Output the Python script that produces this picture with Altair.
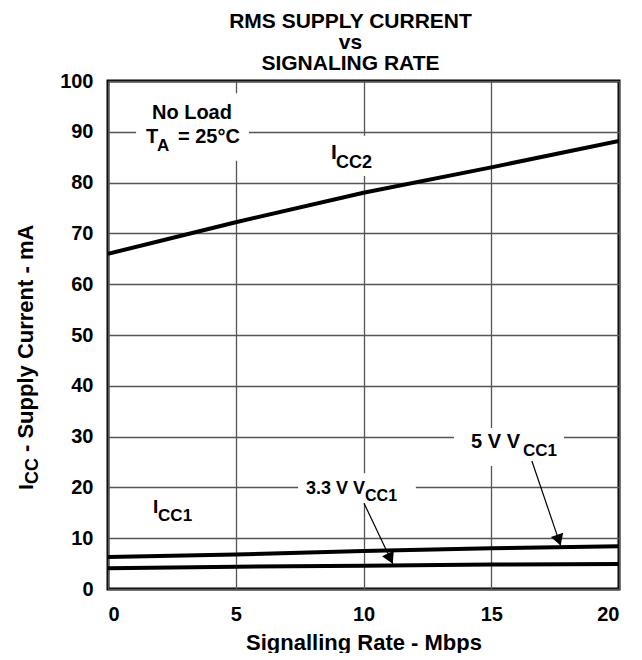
import math
import altair as alt
import pandas as pd

# ---- data ----
rate = [0, 5, 10, 15, 20]
icc2 = [66.0, 72.2, 78.0, 83.0, 88.2]
icc1_5v = [6.3, 6.8, 7.5, 8.0, 8.4]
icc1_33v = [4.1, 4.4, 4.6, 4.8, 4.9]

x_ticks = [0, 5, 10, 15, 20]
y_ticks = [0, 10, 20, 30, 40, 50, 60, 70, 80, 90, 100]

title_lines = ["RMS SUPPLY CURRENT", "vs", "SIGNALING RATE"]
x_title = "Signalling Rate - Mbps"

# annotation text pieces (left aligned, data coords of baseline start)
ann_text = ["No Load", "T", "A", "= 25°C", "I", "CC2", "5 V V", "CC1", "3.3 V V", "CC1", "I", "CC1"]
ann_x = [1.72, 1.49, 1.92, 2.74, 8.73, 8.92, 14.21, 16.24, 7.75, 10.06, 1.76, 1.96]
ann_y = [92.5, 87.8, 86.2, 87.8, 84.6, 82.9, 27.8, 26.2, 18.7, 17.3, 15.0, 13.4]
ann_fs = [20, 20, 17, 20, 21, 18, 20, 17, 18, 16, 19, 17]

# white label boxes that interrupt the grid
box_x = [1.10, 8.53, 13.54, 7.44]
box_x2 = [5.52, 10.68, 17.85, 12.05]
box_y = [97.6, 89.2, 31.7, 22.8]
box_y2 = [84.3, 81.3, 24.2, 16.9]

# leader arrows: start -> tip
arr_x = [16.59, 10.02]
arr_y = [25.2, 16.9]
arr_x2 = [17.72, 11.15]
arr_y2 = [8.5, 4.9]

W, H = 511, 508
PX_X = W / 20.0
PX_Y = H / 100.0
FONT = "Liberation Sans"

curves = pd.DataFrame({
    "rate": rate * 3,
    "current": icc2 + icc1_5v + icc1_33v,
    "series": ["ICC2"] * 5 + ["5V"] * 5 + ["3.3V"] * 5,
})

ann = pd.DataFrame({"t": ann_text, "x": ann_x, "y": ann_y, "fs": ann_fs})
boxes = pd.DataFrame({"x": box_x, "x2": box_x2, "y": box_y, "y2": box_y2})

arrows = pd.DataFrame({"x": arr_x, "y": arr_y, "x2": arr_x2, "y2": arr_y2})
heads = []
for a, b, c, d in zip(arr_x, arr_y, arr_x2, arr_y2):
    dxp = (c - a) * PX_X
    dyp = -(d - b) * PX_Y  # screen down positive
    L = math.hypot(dxp, dyp)
    ux, uy = dxp / L, dyp / L
    cx = c - ux * 6 / PX_X
    cy = d + uy * 6 / PX_Y
    ang = (-math.degrees(math.atan2(ux, uy))) % 360
    heads.append({"x": cx, "y": cy, "ang": ang})
heads = pd.DataFrame(heads)

xs = alt.Scale(domain=[0, 20], nice=False)
ys = alt.Scale(domain=[0, 100], nice=False)

base_x = alt.X("rate:Q", scale=xs,
               axis=alt.Axis(values=x_ticks, title=x_title, grid=True))
base_y = alt.Y("current:Q", scale=ys,
               axis=alt.Axis(values=y_ticks, title=None, grid=True))

lines = alt.Chart(curves).mark_line(color="black", strokeWidth=4, clip=True).encode(
    x=base_x, y=base_y, detail="series:N")

rects = alt.Chart(boxes).mark_rect(color="white").encode(
    x=alt.X("x:Q", scale=xs), x2="x2", y=alt.Y("y:Q", scale=ys), y2="y2")

texts = alt.Chart(ann).mark_text(
    align="left", baseline="alphabetic", font=FONT, fontWeight="bold", color="black"
).encode(x=alt.X("x:Q", scale=xs), y=alt.Y("y:Q", scale=ys), text="t:N",
         size=alt.Size("fs:Q", scale=None))

rules = alt.Chart(arrows).mark_rule(color="black", strokeWidth=1.2).encode(
    x=alt.X("x:Q", scale=xs), y=alt.Y("y:Q", scale=ys), x2="x2", y2="y2")

heads_l = alt.Chart(heads).mark_point(
    shape="triangle-down", filled=True, color="black", size=170, opacity=1
).encode(x=alt.X("x:Q", scale=xs), y=alt.Y("y:Q", scale=ys),
         angle=alt.Angle("ang:Q", scale=None))

# y-axis title with subscript, drawn as rotated text pieces
yt_text = ["I", "CC", "- Supply Current - mA"]
yt_fs = [21, 18, 22]
yt_dx = [0, 5, 0]
yt_off = [0, 6, 38]
ytitle = pd.DataFrame({"t": yt_text, "fs": yt_fs, "dx": yt_dx, "off": yt_off})
ytitle_l = alt.Chart(ytitle).transform_calculate(
    px="-75 + datum.dx", py="409 - datum.off"
).mark_text(angle=270, align="left", baseline="alphabetic", font=FONT,
            fontWeight="bold", color="black").encode(
    x=alt.X("px:Q", scale=None), y=alt.Y("py:Q", scale=None), text="t:N",
    size=alt.Size("fs:Q", scale=None))

chart = alt.layer(lines, rects, texts, rules, heads_l, ytitle_l).properties(
    width=W, height=H,
    title=alt.Title(title_lines, fontSize=21, font=FONT, fontWeight="bold",
                    lineHeight=21, anchor="middle", dx=-13, offset=-3, color="black"),
    padding={"left": 7, "top": 3, "right": 5, "bottom": 0},
).configure_axis(
    labelFont=FONT, labelFontSize=20, labelFontWeight="bold", labelColor="black",
    titleFont=FONT, titleFontSize=22, titleFontWeight="bold", titleColor="black",
    gridColor="#555555", gridWidth=1.3, gridOpacity=1,
    domain=False, ticks=False, labelPadding=15, titlePadding=8,
).configure_view(stroke="black", strokeWidth=3)

chart.save("out.html", embed_options={"renderer": "svg", "actions": False})
